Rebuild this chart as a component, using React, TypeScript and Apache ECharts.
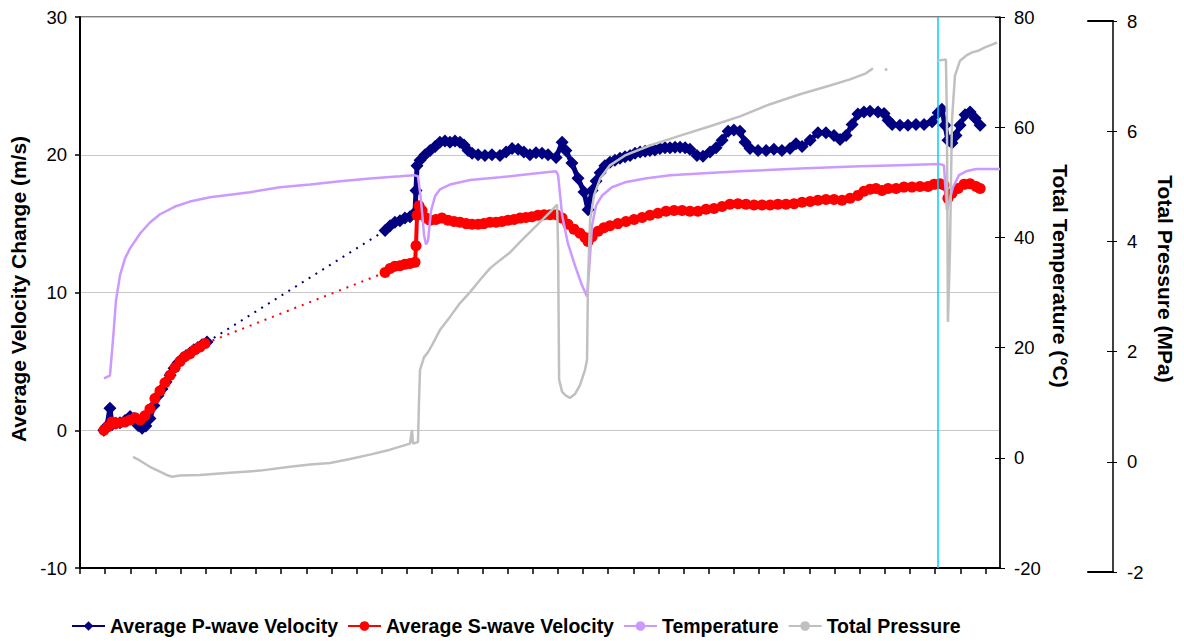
import { useEffect, useRef } from "react";
import * as echarts from "echarts";

const FONT = '"Liberation Sans", Arial, sans-serif';

// Elapsed time ticks (one tick per unit)
const timeTicks = [0, 1, 2, 3, 4, 5, 6, 7, 8, 9, 10, 11, 12, 13, 14, 15, 16, 17, 18, 19, 20, 21, 22, 23, 24, 25, 26, 27, 28, 29, 30, 31, 32, 33, 34, 35, 36];
const timeMax = 36.58;
const eventTime = 34.12;

const velocityTicks = { min: -10, max: 30, step: 10 };
const temperatureTicks = { min: -20, max: 80, step: 20 };
const pressureTicks = { min: -2, max: 8, step: 2 };

// Average P-wave velocity change (m/s): [time, value]
const pWaveEarly = [
  [0.95, 0.0], [1.07, 0.3], [1.19, 1.6], [1.27, 0.4], [1.43, 0.5], [1.59, 0.55], [1.79, 0.7], [1.99, 1.0],
  [2.15, 0.85], [2.31, 0.35], [2.47, 0.15], [2.62, 0.3], [2.78, 0.85], [2.94, 1.8], [3.1, 2.5], [3.26, 3.0],
  [3.42, 3.5], [3.58, 4.0], [3.74, 4.5], [3.9, 4.9], [4.06, 5.2], [4.21, 5.4], [4.37, 5.6], [4.53, 5.85],
  [4.69, 6.0], [4.85, 6.2], [5.05, 6.4],
];
const pWaveLate = [
  [12.13, 14.5], [12.33, 14.85], [12.52, 15.1], [12.72, 15.2], [12.92, 15.4], [13.12, 15.5], [13.32, 15.8],
  [13.36, 17.4], [13.4, 19.2], [13.52, 19.6], [13.72, 20.0], [13.92, 20.3], [14.12, 20.6], [14.31, 20.9],
  [14.51, 21.0], [14.71, 20.9], [14.91, 21.0], [15.11, 20.9], [15.27, 20.7], [15.43, 20.3], [15.59, 20.1],
  [15.83, 20.0], [16.1, 19.95], [16.38, 20.0], [16.7, 19.95], [16.94, 20.2], [17.18, 20.45], [17.42, 20.4],
  [17.65, 20.2], [17.89, 20.0], [18.13, 20.15], [18.37, 20.1], [18.61, 20.0], [18.93, 19.8], [19.17, 20.9],
  [19.32, 20.3], [19.56, 19.4], [19.8, 18.3], [20.04, 17.3], [20.2, 16.0], [20.36, 17.4], [20.52, 18.1],
  [20.68, 18.7], [20.87, 19.2], [21.07, 19.45], [21.27, 19.6], [21.47, 19.75], [21.67, 19.85], [21.87, 19.95],
  [22.07, 20.1], [22.27, 20.2], [22.47, 20.25], [22.66, 20.3], [22.86, 20.35], [23.06, 20.45], [23.26, 20.5],
  [23.46, 20.5], [23.66, 20.55], [23.86, 20.55], [24.06, 20.5], [24.25, 20.4], [24.53, 19.95], [24.77, 19.9],
  [25.05, 20.2], [25.29, 20.5], [25.53, 21.05], [25.77, 21.7], [26.0, 21.8], [26.24, 21.7], [26.44, 20.9],
  [26.64, 20.45], [26.96, 20.3], [27.28, 20.3], [27.59, 20.4], [27.91, 20.3], [28.23, 20.45], [28.47, 20.8],
  [28.71, 20.6], [29.03, 21.05], [29.34, 21.6], [29.66, 21.6], [29.98, 21.4], [30.22, 21.1], [30.46, 21.4],
  [30.7, 22.2], [30.93, 22.95], [31.17, 23.1], [31.41, 23.15], [31.73, 23.1], [31.97, 23.0], [32.13, 22.5],
  [32.29, 22.2], [32.6, 22.15], [32.92, 22.15], [33.24, 22.2], [33.56, 22.2], [33.88, 22.4], [34.12, 23.05],
  [34.27, 23.3], [34.39, 22.15], [34.51, 21.05], [34.67, 20.85], [34.83, 21.4], [34.99, 22.15], [35.19, 22.9],
  [35.39, 23.1], [35.59, 22.65], [35.79, 22.15],
];

// Average S-wave velocity change (m/s): [time, value]
const sWaveEarly = [
  [0.95, 0.0], [1.11, 0.25], [1.27, 0.6], [1.43, 0.5], [1.59, 0.55], [1.79, 0.6], [1.99, 0.75], [2.19, 0.9],
  [2.39, 0.75], [2.58, 1.05], [2.78, 1.55], [2.98, 2.3], [3.18, 2.85], [3.38, 3.45], [3.58, 4.0], [3.78, 4.55],
  [3.98, 5.0], [4.17, 5.35], [4.37, 5.55], [4.57, 5.85], [4.77, 6.05], [4.97, 6.3],
];
const sWaveLate = [
  [12.13, 11.45], [12.33, 11.75], [12.52, 11.9], [12.72, 11.95], [12.92, 12.05], [13.12, 12.1], [13.32, 12.2],
  [13.36, 13.4], [13.4, 15.6], [13.48, 16.3], [13.6, 15.95], [13.76, 15.4], [13.92, 15.25], [14.15, 15.3],
  [14.39, 15.4], [14.63, 15.25], [14.87, 15.15], [15.11, 15.1], [15.35, 15.0], [15.59, 14.95], [15.83, 14.95],
  [16.06, 15.0], [16.3, 15.1], [16.54, 15.1], [16.78, 15.15], [17.02, 15.25], [17.26, 15.3], [17.5, 15.4],
  [17.73, 15.45], [17.97, 15.5], [18.21, 15.6], [18.45, 15.65], [18.69, 15.65], [18.93, 15.65], [19.17, 15.4],
  [19.4, 14.95], [19.64, 14.6], [19.88, 14.3], [20.08, 14.0], [20.2, 13.7], [20.36, 14.05], [20.6, 14.45],
  [20.83, 14.7], [21.07, 14.85], [21.39, 15.0], [21.71, 15.15], [22.03, 15.3], [22.35, 15.45], [22.66, 15.6],
  [22.98, 15.75], [23.3, 15.9], [23.62, 15.95], [23.94, 15.95], [24.25, 15.9], [24.57, 15.9], [24.89, 16.05],
  [25.21, 16.1], [25.53, 16.25], [25.84, 16.4], [26.16, 16.45], [26.48, 16.4], [26.8, 16.35], [27.12, 16.35],
  [27.44, 16.35], [27.75, 16.4], [28.07, 16.4], [28.39, 16.45], [28.71, 16.55], [29.03, 16.6], [29.34, 16.7],
  [29.66, 16.75], [29.98, 16.75], [30.3, 16.7], [30.62, 16.85], [30.93, 17.05], [31.17, 17.35], [31.41, 17.5],
  [31.65, 17.55], [31.89, 17.4], [32.13, 17.55], [32.45, 17.55], [32.76, 17.65], [33.08, 17.65], [33.4, 17.7],
  [33.72, 17.7], [33.96, 17.85], [34.19, 17.9], [34.35, 17.8], [34.51, 16.85], [34.67, 17.2], [34.91, 17.55],
  [35.15, 17.85], [35.39, 17.9], [35.63, 17.7], [35.79, 17.55],
];

// Total temperature (°C): [time, value]
const temperature = [
  [0.95, 14.4], [1.19, 14.9], [1.31, 21.3], [1.43, 28.5], [1.59, 33.1], [1.79, 36.2], [1.99, 38.0], [2.39, 40.7],
  [2.78, 42.7], [3.18, 44.2], [3.78, 45.6], [4.37, 46.5], [5.17, 47.3], [6.76, 48.2], [7.95, 49.1], [9.15, 49.6],
  [10.34, 50.2], [11.53, 50.7], [12.72, 51.1], [13.28, 51.3], [13.44, 51.1], [13.56, 46.7], [13.68, 40.4],
  [13.76, 38.7], [13.84, 39.5], [13.96, 44.9], [14.12, 47.5], [14.31, 48.7], [14.71, 49.6], [15.51, 50.4],
  [16.7, 50.9], [17.89, 51.5], [18.93, 52.0], [19.01, 51.3], [19.17, 44.0], [19.4, 38.9], [19.68, 34.9],
  [19.96, 31.3], [20.16, 29.3], [20.24, 34.0], [20.36, 42.2], [20.52, 45.8], [20.76, 47.6], [21.15, 49.1],
  [21.67, 50.0], [22.47, 50.7], [23.46, 51.3], [24.65, 51.6], [26.24, 52.0], [28.63, 52.5], [31.01, 52.9],
  [32.6, 53.1], [34.19, 53.3], [34.35, 53.1], [34.47, 45.0], [34.71, 49.1], [34.95, 51.3], [35.23, 52.0],
  [35.63, 52.4], [36.58, 52.4],
];

// Total pressure (MPa): [time, value]; "-" marks a gap in the record
const pressure: any[] = [
  [2.11, 0.09], [2.39, 0.02], [2.78, -0.09], [3.18, -0.18], [3.5, -0.25], [3.66, -0.27], [3.98, -0.25],
  [4.77, -0.24], [5.96, -0.2], [7.16, -0.16], [8.35, -0.09], [9.15, -0.05], [9.94, -0.02], [10.74, 0.05],
  [11.53, 0.13], [12.33, 0.22], [13.12, 0.33], [13.2, 0.58], [13.24, 0.33], [13.44, 0.36], [13.48, 1.12],
  [13.52, 1.67], [13.68, 1.9], [13.84, 1.99], [14.0, 2.12], [14.31, 2.39], [14.71, 2.63], [15.11, 2.88],
  [15.51, 3.08], [15.9, 3.3], [16.3, 3.51], [16.7, 3.66], [17.1, 3.8], [17.5, 3.99], [17.89, 4.17],
  [18.29, 4.35], [18.69, 4.53], [18.97, 4.67], [19.01, 3.84], [19.05, 1.49], [19.17, 1.27], [19.32, 1.2],
  [19.48, 1.16], [19.68, 1.23], [19.88, 1.39], [20.08, 1.67], [20.16, 1.85], [20.2, 3.3], [20.28, 4.38],
  [20.44, 4.84], [20.68, 5.14], [21.07, 5.38], [21.67, 5.56], [22.66, 5.74], [23.86, 5.92], [25.05, 6.09],
  [26.24, 6.27], [27.44, 6.49], [28.63, 6.67], [29.82, 6.83], [30.62, 6.94], [31.25, 7.05], [31.53, 7.14],
  [31.8, "-"],
  { value: [32.05, 7.12], symbol: "circle", symbolSize: 3 },
  [32.3, "-"],
  [34.08, 7.28], [34.43, 7.3], [34.47, 6.2], [34.51, 2.54], [34.59, 3.84], [34.67, 6.2], [34.79, 7.01],
  [34.99, 7.28], [35.23, 7.37], [35.47, 7.43], [35.71, 7.46], [35.98, 7.52], [36.26, 7.57], [36.46, 7.61],
];

const SERIES_NAMES = ["Average P-wave Velocity", "Average S-wave Velocity", "Temperature", "Total Pressure"];
const COLORS = { pWave: "#000080", sWave: "#FF0000", temperature: "#CC99FF", pressure: "#C0C0C0", event: "#00CCFF" };

const tickLabel = { color: "#000", fontFamily: FONT, fontSize: 18.5 };
const titleFont = `bold 21px ${FONT}`;

function buildOption(): echarts.EChartsCoreOption {
  const plotGrid = { left: 80, top: 17, width: 920, height: 551 };
  return {
    animation: false,
    backgroundColor: "#fff",
    grid: [
      { ...plotGrid, show: true, borderColor: "#000", borderWidth: 1, backgroundColor: "transparent" },
      { left: 80, top: 21, width: 920, height: 551 },
      { left: 1088, top: 21, width: 25, height: 551 },
    ],
    xAxis: [
      {
        gridIndex: 0, type: "value", min: 0, max: timeMax, interval: 1, position: "bottom",
        axisLine: { show: true, onZero: false, lineStyle: { color: "#000", width: 2 } },
        axisTick: { show: true, length: 6, customValues: timeTicks, lineStyle: { color: "#000", width: 1.5 } },
        axisLabel: { show: false }, splitLine: { show: false },
      },
      { gridIndex: 1, type: "value", min: 0, max: timeMax, show: false },
      {
        gridIndex: 2, type: "value", min: 0, max: 1, position: "bottom",
        axisLine: { show: true, onZero: false, lineStyle: { color: "#000", width: 2 } },
        axisTick: { show: false }, axisLabel: { show: false }, splitLine: { show: false },
      },
      {
        gridIndex: 2, type: "value", min: 0, max: 1, position: "top",
        axisLine: { show: true, onZero: false, lineStyle: { color: "#000", width: 2 } },
        axisTick: { show: false }, axisLabel: { show: false }, splitLine: { show: false },
      },
    ],
    yAxis: [
      {
        gridIndex: 0, type: "value", position: "left",
        min: velocityTicks.min, max: velocityTicks.max, interval: velocityTicks.step,
        axisLine: { show: true, onZero: false, lineStyle: { color: "#000", width: 2 } },
        axisTick: { show: true, length: 5, lineStyle: { color: "#000", width: 1.5 } },
        axisLabel: { ...tickLabel, margin: 13 },
        splitLine: { show: true, lineStyle: { color: "#C8C8C8", width: 1 } },
      },
      {
        gridIndex: 0, type: "value", position: "right",
        min: temperatureTicks.min, max: temperatureTicks.max, interval: temperatureTicks.step,
        axisLine: { show: true, onZero: false, lineStyle: { color: "#000", width: 1.5 } },
        axisTick: { show: true, length: 5, lineStyle: { color: "#000", width: 1 } },
        axisLabel: { ...tickLabel, margin: 14 },
        splitLine: { show: false },
      },
      {
        gridIndex: 0, type: "value", position: "right",
        min: temperatureTicks.min, max: temperatureTicks.max, interval: temperatureTicks.step,
        axisLine: { show: false, onZero: false },
        axisTick: { show: true, inside: true, length: 5, lineStyle: { color: "#000", width: 1 } },
        axisLabel: { show: false }, splitLine: { show: false },
      },
      {
        gridIndex: 1, type: "value",
        min: pressureTicks.min, max: pressureTicks.max, interval: pressureTicks.step, show: false,
      },
      {
        gridIndex: 2, type: "value", position: "right",
        min: pressureTicks.min, max: pressureTicks.max, interval: pressureTicks.step,
        axisLine: { show: true, onZero: false, lineStyle: { color: "#000", width: 1.5 } },
        axisTick: { show: true, length: 4, lineStyle: { color: "#000", width: 1 } },
        axisLabel: { ...tickLabel, margin: 14 },
        splitLine: { show: false },
      },
      {
        gridIndex: 2, type: "value", position: "right",
        min: pressureTicks.min, max: pressureTicks.max, interval: pressureTicks.step,
        axisLine: { show: false, onZero: false },
        axisTick: { show: true, inside: true, length: 6, lineStyle: { color: "#000", width: 1 } },
        axisLabel: { show: false }, splitLine: { show: false },
      },
    ],
    legend: {
      data: SERIES_NAMES,
      left: 71,
      top: 616,
      padding: 0,
      itemWidth: 33,
      itemHeight: 12,
      itemGap: 9,
      lineStyle: { width: 2 },
      textStyle: { color: "#000", fontFamily: FONT, fontSize: 19.5, fontWeight: "bold" },
    },
    graphic: [
      {
        type: "text", x: 18, y: 289, rotation: Math.PI / 2,
        style: { text: "Average Velocity Change (m/s)", fill: "#000", font: titleFont, align: "center", verticalAlign: "middle" },
      },
      {
        type: "text", x: 1060, y: 276, rotation: -Math.PI / 2,
        style: { text: "Total Temperature (°C)", fill: "#000", font: titleFont, align: "center", verticalAlign: "middle" },
      },
      {
        type: "text", x: 1165, y: 279, rotation: -Math.PI / 2,
        style: { text: "Total Pressure (MPa)", fill: "#000", font: titleFont, align: "center", verticalAlign: "middle" },
      },
    ],
    series: [
      {
        name: "pWaveGap", type: "line", xAxisIndex: 0, yAxisIndex: 0,
        data: [pWaveEarly[pWaveEarly.length - 1], pWaveLate[0]],
        symbol: "none", lineStyle: { color: COLORS.pWave, width: 2, type: [2, 6] }, z: 2,
      },
      {
        name: "sWaveGap", type: "line", xAxisIndex: 0, yAxisIndex: 0,
        data: [sWaveEarly[sWaveEarly.length - 1], sWaveLate[0]],
        symbol: "none", lineStyle: { color: COLORS.sWave, width: 2, type: [2, 6] }, z: 2,
      },
      {
        name: SERIES_NAMES[0], type: "line", xAxisIndex: 0, yAxisIndex: 0,
        data: [...pWaveEarly, [8, "-"], ...pWaveLate],
        color: COLORS.pWave, symbol: "diamond", symbolSize: 13, showAllSymbol: true,
        itemStyle: { color: COLORS.pWave }, lineStyle: { color: COLORS.pWave, width: 5, join: "round" }, z: 3,
        markLine: {
          silent: true, symbol: ["none", "none"], label: { show: false },
          lineStyle: { color: COLORS.event, width: 1.5, type: "solid" },
          data: [{ xAxis: eventTime }],
        },
      },
      {
        name: SERIES_NAMES[1], type: "line", xAxisIndex: 0, yAxisIndex: 0,
        data: [...sWaveEarly, [8, "-"], ...sWaveLate],
        color: COLORS.sWave, symbol: "circle", symbolSize: 11, showAllSymbol: true,
        itemStyle: { color: COLORS.sWave }, lineStyle: { color: COLORS.sWave, width: 4, join: "round" }, z: 4,
      },
      {
        name: SERIES_NAMES[2], type: "line", xAxisIndex: 0, yAxisIndex: 1,
        data: temperature, color: COLORS.temperature, symbol: "none",
        lineStyle: { color: COLORS.temperature, width: 2.5 }, z: 5,
      },
      {
        name: SERIES_NAMES[3], type: "line", xAxisIndex: 1, yAxisIndex: 3,
        data: pressure, color: COLORS.pressure, symbol: "none", showSymbol: true, connectNulls: false,
        itemStyle: { color: COLORS.pressure },
        lineStyle: { color: COLORS.pressure, width: 2.5 }, z: 6,
      },
    ],
  };
}

export default function App() {
  const ref = useRef<HTMLDivElement>(null);
  useEffect(() => {
    if (!ref.current) return;
    const chart = echarts.init(ref.current, undefined, { renderer: "svg" });
    chart.setOption(buildOption());
    return () => chart.dispose();
  }, []);
  return <div ref={ref} style={{ position: "absolute", left: 0, top: 0, width: 1184, height: 641 }} />;
}
